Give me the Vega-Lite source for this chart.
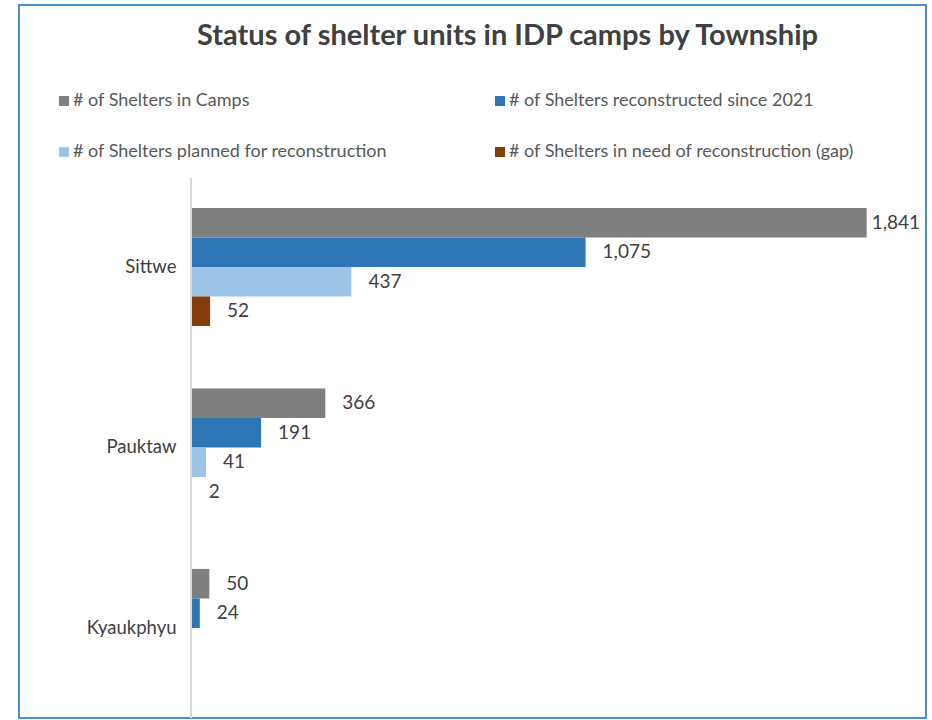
{
  "$schema": "https://vega.github.io/schema/vega-lite/v6.json",
  "width": 907,
  "height": 713,
  "autosize": {"type": "none"},
  "padding": {"left": 19, "top": 5, "right": 6, "bottom": 2},
  "background": "white",
  "title": {
    "text": "Status of shelter units in IDP camps by Township",
    "fontSize": 29,
    "fontWeight": "bold",
    "font": "Lato",
    "color": "#404040",
    "anchor": "middle",
    "frame": "group",
    "baseline": "alphabetic",
    "offset": -69,
    "dx": 35
  },
  "config": {
    "view": {"stroke": "#4A8FD4", "strokeWidth": 2},
    "font": "Lato"
  },
  "data": {
    "values": [
      {"township": "Sittwe", "series": "# of Shelters in Camps", "value": 1841},
      {"township": "Sittwe", "series": "# of Shelters reconstructed since 2021", "value": 1075},
      {"township": "Sittwe", "series": "# of Shelters planned for reconstruction", "value": 437},
      {"township": "Sittwe", "series": "# of Shelters in need of reconstruction (gap)", "value": 52},
      {"township": "Pauktaw", "series": "# of Shelters in Camps", "value": 366},
      {"township": "Pauktaw", "series": "# of Shelters reconstructed since 2021", "value": 191},
      {"township": "Pauktaw", "series": "# of Shelters planned for reconstruction", "value": 41},
      {"township": "Pauktaw", "series": "# of Shelters in need of reconstruction (gap)", "value": 2},
      {"township": "Kyaukphyu", "series": "# of Shelters in Camps", "value": 50},
      {"township": "Kyaukphyu", "series": "# of Shelters reconstructed since 2021", "value": 24}
    ]
  },
  "layer": [
    {
      "mark": {"type": "bar"},
      "encoding": {
        "y": {
          "field": "township",
          "type": "nominal",
          "scale": {"domain": ["Sittwe", "Pauktaw", "Kyaukphyu"], "paddingInner": 0.346, "paddingOuter": 0.648, "align": 0.8675},
          "axis": {"orient": "left", "offset": -172, "domain": false, "ticks": false, "labelPadding": 15, "labelFontSize": 18.5, "labelColor": "#404040", "title": null, "labelFont": "Lato"}
        },
        "x": {"field": "value", "type": "quantitative", "stack": null, "scale": {"domain": [-468.6, 2002.6], "nice": false, "zero": false}, "axis": null},
        "x2": {"datum": 0},
        "yOffset": {
          "field": "series",
          "type": "nominal",
          "scale": {"domain": ["# of Shelters in Camps", "# of Shelters reconstructed since 2021", "# of Shelters planned for reconstruction", "# of Shelters in need of reconstruction (gap)"], "paddingInner": 0, "paddingOuter": 0}
        },
        "color": {
          "field": "series",
          "type": "nominal",
          "scale": {
            "domain": ["# of Shelters in Camps", "# of Shelters planned for reconstruction", "# of Shelters reconstructed since 2021", "# of Shelters in need of reconstruction (gap)"],
            "range": ["#7F7F7F", "#9DC3E6", "#2E75B6", "#843C0C"]
          },
          "legend": {
            "orient": "none",
            "legendX": 36,
            "legendY": 87,
            "columns": 2,
            "columnPadding": 103,
            "rowPadding": 33,
            "title": null,
            "symbolType": "square",
            "symbolSize": 100,
            "symbolStrokeWidth": 0,
            "labelFontSize": 18,
            "labelFont": "Lato",
            "labelColor": "#595959",
            "labelOffset": 0,
            "labelLimit": 0
          }
        }
      }
    },
    {
      "transform": [{"filter": "datum.township === 'Sittwe' && datum.series === '# of Shelters in Camps'"}],
      "mark": {"type": "rule", "color": "#D9D9D9", "strokeWidth": 2},
      "encoding": {
        "x": {"datum": 0, "type": "quantitative"},
        "y": {"field": "township", "type": "nominal", "bandPosition": -0.254},
        "y2": {"value": "height"}
      }
    },
    {
      "transform": [{"filter": "datum.value < 1500"}],
      "mark": {"type": "text", "align": "left", "baseline": "middle", "dx": 17, "fontSize": 19, "color": "#404040"},
      "encoding": {
        "y": {"field": "township", "type": "nominal"},
        "x": {"field": "value", "type": "quantitative", "stack": null},
        "yOffset": {"field": "series", "type": "nominal"},
        "text": {"field": "value", "type": "quantitative", "format": ","}
      }
    },
    {
      "transform": [{"filter": "datum.value >= 1500"}],
      "mark": {"type": "text", "align": "left", "baseline": "middle", "dx": 5, "fontSize": 19, "color": "#404040"},
      "encoding": {
        "y": {"field": "township", "type": "nominal"},
        "x": {"field": "value", "type": "quantitative", "stack": null},
        "yOffset": {"field": "series", "type": "nominal"},
        "text": {"field": "value", "type": "quantitative", "format": ","}
      }
    }
  ]
}
